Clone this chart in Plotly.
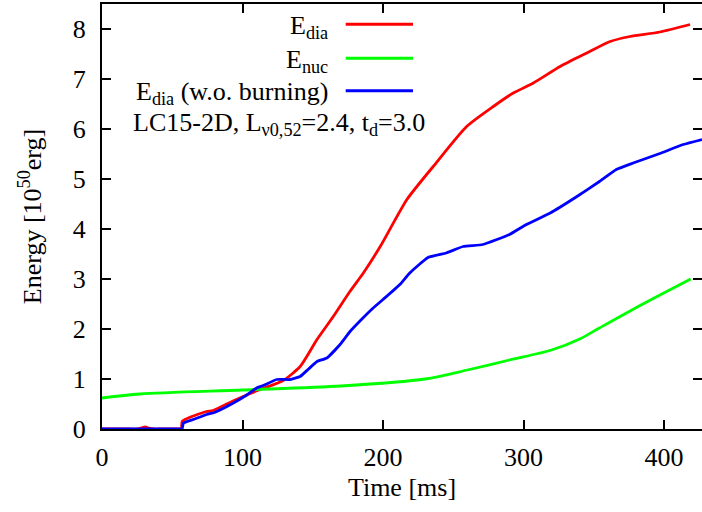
import plotly.graph_objects as go

# ---- data ----
t_dia = [0, 10, 20, 25, 29, 31, 33, 37, 42, 48, 53, 56, 56.5, 57, 59, 66, 74.5, 79, 88, 98,
         112.5, 129, 141, 153, 164.6, 176.4, 186, 198, 217, 235.7, 259.5, 278.5, 292.7, 307,
         326, 345, 361.6, 375.8, 397, 418.5]
e_dia = [0, 0, 0, 0, 0.03, 0.04, 0.02, 0, 0, 0, 0, 0, 0, 0.15, 0.19, 0.27, 0.35, 0.37, 0.49,
         0.62, 0.79, 0.97, 1.25, 1.79, 2.25, 2.75, 3.12, 3.65, 4.59, 5.25, 6.05, 6.45, 6.72,
         6.92, 7.25, 7.52, 7.75, 7.85, 7.94, 8.09]

t_nuc = [0, 27, 100, 170, 230, 260, 290, 320, 340, 354, 385, 419]
e_nuc = [0.62, 0.70, 0.78, 0.86, 1.0, 1.18, 1.38, 1.58, 1.8, 2.02, 2.5, 3.0]

t_wob = [0, 10, 20, 30, 40, 48, 53, 56, 57, 58, 66, 74.5, 80, 93.5, 103, 110, 114.8, 124.3,
         133.8, 141, 147, 153, 160, 169.4, 176.5, 185, 193, 200, 212, 219, 232, 245, 257,
         271, 290, 302, 319, 338, 354, 366, 378, 397, 413.7, 427]
e_wob = [0, 0, 0, 0, 0, 0, 0, 0, 0, 0.12, 0.2, 0.29, 0.33, 0.52, 0.68, 0.82, 0.87, 0.99,
         0.99, 1.05, 1.2, 1.35, 1.42, 1.69, 1.95, 2.2, 2.42, 2.59, 2.89, 3.12, 3.43, 3.52,
         3.65, 3.69, 3.89, 4.09, 4.32, 4.65, 4.95, 5.19, 5.32, 5.51, 5.69, 5.79]

x_ticks = [0, 100, 200, 300, 400]
y_ticks = [0, 1, 2, 3, 4, 5, 6, 7, 8]

legend_labels = ["E<sub>dia</sub>", "E<sub>nuc</sub>", "E<sub>dia</sub> (w.o. burning)"]
legend_colors = ["#ff0000", "#00ff00", "#0000ff"]
title_text = "LC15-2D, L<sub>\u03bd0,52</sub>=2.4, t<sub>d</sub>=3.0"

FONT = "Liberation Serif"
FS = 26

fig = go.Figure()
for tx, ey, c, sm in [(t_dia, e_dia, legend_colors[0], 0.6),
                      (t_nuc, e_nuc, legend_colors[1], 0.8),
                      (t_wob, e_wob, legend_colors[2], 0.4)]:
    fig.add_trace(go.Scatter(x=tx, y=ey, mode="lines",
                             line=dict(color=c, width=2.8, shape="spline", smoothing=sm),
                             showlegend=False))

axis_common = dict(showline=True, linecolor="black", linewidth=2, mirror="ticks",
                   ticks="inside", ticklen=9, tickwidth=2, tickcolor="black",
                   showgrid=False, zeroline=False,
                   tickfont=dict(family=FONT, size=FS, color="black"))

fig.update_xaxes(range=[0, 427], tickvals=x_ticks, ticklabelstandoff=4,
                 title=dict(text="Time [ms]", font=dict(family=FONT, size=FS, color="black"),
                            standoff=7),
                 **axis_common)
fig.update_yaxes(range=[0, 8.5], tickvals=y_ticks, ticklabelstandoff=9,
                 title=dict(text="Energy [10<sup>50</sup>erg]",
                            font=dict(family=FONT, size=FS, color="black"), standoff=24),
                 **axis_common)

# gnuplot-style key: right-aligned text with line samples to the right
key_y_px = [24.3, 58.3, 90.7]
annotations = []
shapes = []
for lab, c, ypx in zip(legend_labels, legend_colors, key_y_px):
    yp = (429 - ypx) / 425
    annotations.append(dict(x=(330 - 102) / 600, y=yp - 0.006, xref="paper", yref="paper",
                            text=lab, showarrow=False, xanchor="right", yanchor="middle",
                            font=dict(family=FONT, size=FS, color="black")))
    shapes.append(dict(type="line", xref="paper", yref="paper",
                       x0=(345.7 - 102) / 600, x1=(413 - 102) / 600, y0=yp, y1=yp,
                       line=dict(color=c, width=3)))
annotations.append(dict(x=(131 - 102) / 600, y=(429 - 121.7) / 425 - 0.006,
                        xref="paper", yref="paper", text=title_text, showarrow=False,
                        xanchor="left", yanchor="middle",
                        font=dict(family=FONT, size=FS, color="black")))

fig.update_layout(width=702, height=512,
                  margin=dict(l=102, r=0, t=4, b=83, autoexpand=False),
                  font=dict(family=FONT, size=FS, color="black"),
                  paper_bgcolor="white", plot_bgcolor="white",
                  annotations=annotations, shapes=shapes)

fig.write_html("out.html", config={"displayModeBar": False},
               post_script="document.body.style.margin='0';document.body.style.padding='0';")
